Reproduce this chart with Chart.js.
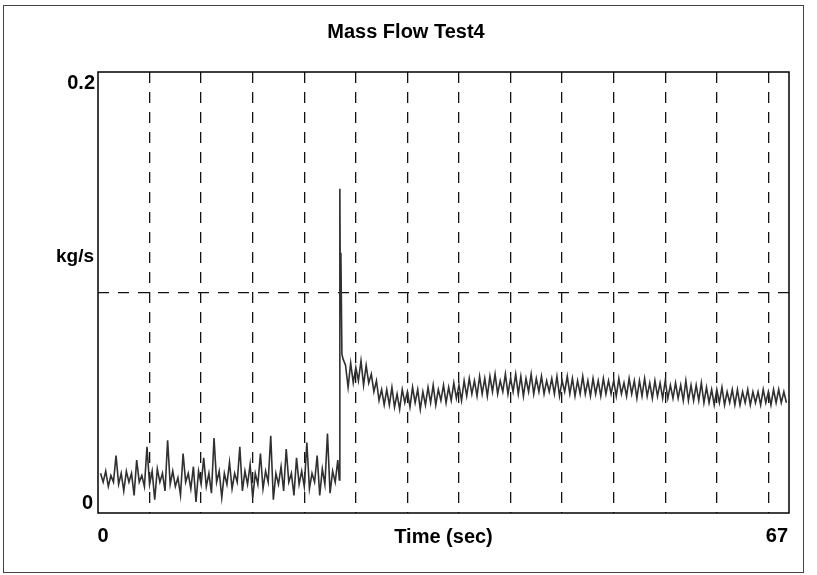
<!DOCTYPE html>
<html>
<head>
<meta charset="utf-8">
<script src="https://cdn.jsdelivr.net/npm/chart.js@4.4.1/dist/chart.umd.min.js"></script>
<style>
  html, body { margin: 0; padding: 0; background: #ffffff; }
  canvas { display: block; }
</style>
</head>
<body>
<canvas id="c" width="817" height="575"></canvas>
<script>
// ---------------- DATA ----------------
const chartTitle = "Mass Flow Test4";
const yUnit = "kg/s";
const xTitle = "Time (sec)";
const xMin = 0, xMax = 67;
const yMin = 0, yMax = 0.2;
const xGridTicks = [5, 10, 15, 20, 25, 30, 35, 40, 45, 50, 55, 60, 65];
const yGridTicks = [0.1];
const yTickLabels = ["0", "0.2"];
const xTickLabels = ["0", "67"];

// before the valve opens (time in s, flow in kg/s)
const preTime = [
  0.25,0.5,0.75,1,1.25,1.5,1.75,2,2.25,2.5,
  2.75,3,3.25,3.5,3.75,4,4.25,4.5,4.75,5,
  5.25,5.5,5.75,6,6.25,6.5,6.75,7,7.25,7.5,
  7.75,8,8.25,8.5,8.75,9,9.25,9.5,9.75,10,
  10.25,10.5,10.75,11,11.25,11.5,11.75,12,12.25,12.5,
  12.75,13,13.25,13.5,13.75,14,14.25,14.5,14.75,15,
  15.25,15.5,15.75,16,16.25,16.5,16.75,17,17.25,17.5,
  17.75,18,18.25,18.5,18.75,19,19.25,19.5,19.75,20,
  20.25,20.5,20.75,21,21.25,21.5,21.75,22,22.25,22.5,
  22.75,23,23.25
];
const preFlow = [
  0.018,0.014,0.019,0.012,0.017,0.014,0.026,0.013,0.018,0.010,
  0.019,0.014,0.018,0.008,0.024,0.014,0.017,0.012,0.030,0.013,
  0.019,0.006,0.020,0.014,0.018,0.010,0.033,0.013,0.019,0.012,
  0.016,0.008,0.027,0.014,0.018,0.011,0.021,0.005,0.019,0.013,
  0.025,0.012,0.018,0.009,0.034,0.014,0.019,0.007,0.018,0.013,
  0.023,0.011,0.018,0.014,0.030,0.010,0.019,0.013,0.022,0.007,
  0.018,0.013,0.027,0.011,0.019,0.014,0.035,0.006,0.018,0.013,
  0.021,0.010,0.029,0.014,0.018,0.008,0.025,0.013,0.019,0.012,
  0.032,0.011,0.018,0.014,0.026,0.008,0.020,0.013,0.036,0.009,
  0.019,0.014,0.024
];

// the opening spike
const stepTime = [23.4, 23.45, 23.5, 23.55, 23.65];
const stepFlow = [0.015, 0.147, 0.095, 0.118, 0.072];

// after the valve opens
const postTime = [
  23.75,
  24,24.25,24.5,24.75,25,25.25,25.5,25.75,
  26,26.25,26.5,26.75,27,27.25,27.5,27.75,
  28,28.25,28.5,28.75,29,29.25,29.5,29.75,
  30,30.25,30.5,30.75,31,31.25,31.5,31.75,
  32,32.25,32.5,32.75,33,33.25,33.5,33.75,
  34,34.25,34.5,34.75,35,35.25,35.5,35.75,
  36,36.25,36.5,36.75,37,37.25,37.5,37.75,
  38,38.25,38.5,38.75,39,39.25,39.5,39.75,
  40,40.25,40.5,40.75,41,41.25,41.5,41.75,
  42,42.25,42.5,42.75,43,43.25,43.5,43.75,
  44,44.25,44.5,44.75,45,45.25,45.5,45.75,
  46,46.25,46.5,46.75,47,47.25,47.5,47.75,
  48,48.25,48.5,48.75,49,49.25,49.5,49.75,
  50,50.25,50.5,50.75,51,51.25,51.5,51.75,
  52,52.25,52.5,52.75,53,53.25,53.5,53.75,
  54,54.25,54.5,54.75,55,55.25,55.5,55.75,
  56,56.25,56.5,56.75,57,57.25,57.5,57.75,
  58,58.25,58.5,58.75,59,59.25,59.5,59.75,
  60,60.25,60.5,60.75,61,61.25,61.5,61.75,
  62,62.25,62.5,62.75,63,63.25,63.5,63.75,
  64,64.25,64.5,64.75,65,65.25,65.5,65.75,
  66,66.25,66.5,66.75
];
const postFlow = [
  0.070,
  0.067,0.057,0.068,0.059,0.066,0.060,0.069,0.058,
  0.067,0.059,0.063,0.055,0.060,0.051,0.056,0.049,
  0.056,0.049,0.057,0.048,0.054,0.047,0.056,0.050,
  0.055,0.048,0.057,0.050,0.056,0.047,0.055,0.049,
  0.057,0.050,0.058,0.049,0.056,0.051,0.058,0.050,
  0.057,0.051,0.059,0.052,0.058,0.051,0.060,0.053,
  0.061,0.054,0.060,0.053,0.062,0.054,0.061,0.053,
  0.062,0.055,0.063,0.054,0.060,0.055,0.063,0.054,
  0.061,0.055,0.063,0.054,0.062,0.053,0.061,0.055,
  0.063,0.054,0.061,0.055,0.062,0.054,0.060,0.055,
  0.061,0.054,0.062,0.053,0.060,0.055,0.062,0.054,
  0.061,0.053,0.060,0.054,0.062,0.054,0.060,0.053,
  0.061,0.054,0.060,0.053,0.061,0.054,0.060,0.054,
  0.060,0.053,0.061,0.054,0.059,0.053,0.061,0.054,
  0.060,0.052,0.060,0.053,0.061,0.053,0.059,0.052,
  0.060,0.053,0.059,0.052,0.060,0.052,0.058,0.052,
  0.059,0.052,0.058,0.051,0.060,0.051,0.058,0.051,
  0.058,0.051,0.059,0.050,0.057,0.050,0.056,0.049,
  0.056,0.050,0.057,0.049,0.055,0.050,0.056,0.049,
  0.056,0.049,0.055,0.050,0.056,0.049,0.055,0.050,
  0.055,0.049,0.056,0.050,0.055,0.049,0.056,0.050,
  0.056,0.050,0.055,0.050
];

// ---------------- CHART ----------------
const allTime = preTime.concat(stepTime, postTime);
const allFlow = preFlow.concat(stepFlow, postFlow);
const points = allTime.map((t, i) => ({ x: t, y: allFlow[i] }));

const FONT = '"Liberation Sans", Arial, sans-serif';

const decor = {
  id: 'decor',
  afterDraw(chart) {
    const { ctx, chartArea: a, scales: { x, y } } = chart;
    ctx.save();
    // outer frame
    ctx.strokeStyle = '#444';
    ctx.lineWidth = 1;
    ctx.strokeRect(3.5, 5.5, 800, 567);
    // plot box
    ctx.strokeStyle = '#000';
    ctx.lineWidth = 1.5;
    ctx.strokeRect(a.left, a.top, a.right - a.left, a.bottom - a.top);

    ctx.fillStyle = '#000';
    ctx.textBaseline = 'middle';
    // title
    ctx.font = 'bold 20px ' + FONT;
    ctx.textAlign = 'center';
    ctx.fillText(chartTitle, 406, 32);
    // y labels
    ctx.font = 'bold 20px ' + FONT;
    ctx.textAlign = 'right';
    ctx.fillText(yTickLabels[1], a.left - 3, y.getPixelForValue(yMax) + 11);
    ctx.fillText(yTickLabels[0], a.left - 5, y.getPixelForValue(yMin) - 10);
    ctx.font = 'bold 19px ' + FONT;
    ctx.fillText(yUnit, a.left - 4, y.getPixelForValue(0.116));
    // x labels
    ctx.font = 'bold 20px ' + FONT;
    const ly = a.bottom + 23;
    ctx.textAlign = 'center';
    ctx.fillText(xTickLabels[0], x.getPixelForValue(xMin) + 5, ly);
    ctx.fillText(xTitle, (a.left + a.right) / 2, ly + 1);
    ctx.textAlign = 'right';
    ctx.fillText(xTickLabels[1], x.getPixelForValue(xMax) - 1, ly);
    ctx.restore();
  }
};

new Chart(document.getElementById('c'), {
  type: 'line',
  data: {
    datasets: [{
      label: 'Mass flow',
      data: points,
      borderColor: '#303030',
      borderWidth: 1.6,
      pointRadius: 0,
      tension: 0,
      fill: false
    }]
  },
  options: {
    responsive: false,
    animation: false,
    devicePixelRatio: 1,
    layout: { padding: { left: 98, top: 72, right: 28, bottom: 62 } },
    plugins: { legend: { display: false }, title: { display: false }, tooltip: { enabled: false } },
    scales: {
      x: {
        type: 'linear', min: xMin, max: xMax,
        afterBuildTicks: s => { s.ticks = xGridTicks.map(v => ({ value: v })); },
        ticks: { display: false },
        grid: { color: '#111', lineWidth: 1.3, drawTicks: false },
        border: { display: false, dash: [11, 9] }
      },
      y: {
        type: 'linear', min: yMin, max: yMax,
        afterBuildTicks: s => { s.ticks = yGridTicks.map(v => ({ value: v })); },
        ticks: { display: false },
        grid: { color: '#111', lineWidth: 1.3, drawTicks: false },
        border: { display: false, dash: [11, 9] }
      }
    }
  },
  plugins: [decor]
});
</script>
</body>
</html>
